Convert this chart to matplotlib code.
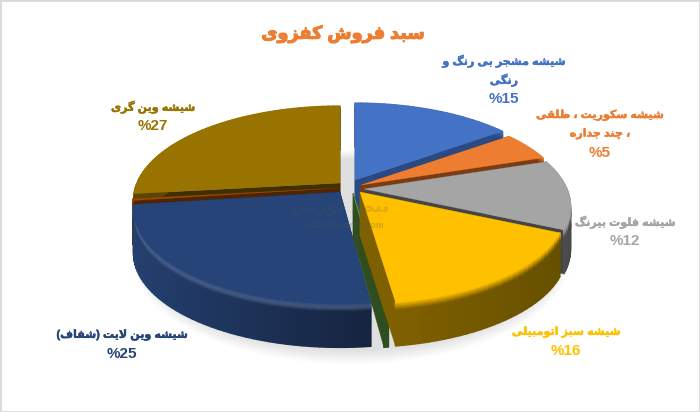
# -*- coding: utf-8 -*-
import numpy as np
import matplotlib
matplotlib.use('Agg')
import matplotlib.pyplot as plt
import matplotlib.patheffects as pe
from matplotlib.collections import PolyCollection
from matplotlib.colors import to_rgb
from matplotlib.patches import Rectangle

# slices clockwise from 12 o'clock, two of them are tiny and have no label
slice_values = [15, 5, 12, 16, 0.3, 25, 0.3, 27]
top_colors = ['#4472c4', '#ed7d31', '#a5a5a5', '#ffc000', '#70ad47', '#264478', '#9e480e', '#997300']
cut_colors = ['#2a4a85', '#7a3c10', '#454545', '#7f6000', '#2f4d1f', '#16284a', '#4f2500', '#403000']
wall_left = ['#2a4a85', '#7a3c10', '#585858', '#806000', '#2f4d1f', '#24406f', '#5a2a00', '#5c4500']
wall_right = ['#2a4a85', '#7a3c10', '#484848', '#665000', '#2f4d1f', '#15233f', '#5a2a00', '#5c4500']
rim_glow = [0, 0, 0.1, 0, 0, 0.14, 0, 0]

title_text = 'سبد فروش کفزوی'
label_lines = [['شیشه مشجر بی رنگ و', 'رنگی'],
               ['شیشه سکوریت ، طلقی', '، چند جداره'],
               ['شیشه فلوت بیرنگ'],
               ['شیشه سبز اتومبیلی'],
               ['شیشه وین لایت (شفاف)'],
               ['شیشه وین گری']]
label_percents = ['%15', '%5', '%12', '%16', '%25', '%27']
label_colors = ['#4472c4', '#ed7d31', '#a5a5a5', '#ffc000', '#264478', '#997300']
label_x = [504, 600, 625, 566, 122, 153]
label_y = [61, 115, 222, 332, 335, 107]

# pie geometry in pixels
CX, CY = 351, 188
RX, RY = 203, 91
PERSP = 0.183
DEPTH = 44
offset_x = [4, 10, 13, 9, 2, -11, -12, -11]
offset_y = [-8, -3, 1, 4, 5, 4, 0, -5]
draw_order = [0, 7, 1, 6, 2, 5, 4, 3]

# matplotlib does not join arabic letters, so pick the presentation forms here
FORMS = {'ا': 'ﺍﺎ', 'د': 'ﺩﺪ', 'ر': 'ﺭﺮ', 'ز': 'ﺯﺰ', 'و': 'ﻭﻮ',
         'ب': 'ﺏﺐﺑﺒ', 'ت': 'ﺕﺖﺗﺘ', 'ج': 'ﺝﺞﺟﺠ', 'چ': 'ﭺﭻﭼﭽ',
         'س': 'ﺱﺲﺳﺴ', 'ش': 'ﺵﺶﺷﺸ', 'ض': 'ﺽﺾﺿﻀ', 'ط': 'ﻁﻂﻃﻄ',
         'ف': 'ﻑﻒﻓﻔ', 'ق': 'ﻕﻖﻗﻘ', 'ک': 'ﮎﮏﮐﮑ', 'گ': 'ﮒﮓﮔﮕ',
         'ل': 'ﻝﻞﻟﻠ', 'م': 'ﻡﻢﻣﻤ', 'ن': 'ﻥﻦﻧﻨ', 'ه': 'ﻩﻪﻫﻬ',
         'ی': 'ﯼﯽﯾﯿ'}
MIRROR = {'(': ')', ')': '('}


def shape(text):
    text = text.replace('لا', '\ufefb')
    out = []
    for i, ch in enumerate(text):
        if ch == '\ufefb':
            joined = i > 0 and text[i - 1] in FORMS and len(FORMS[text[i - 1]]) == 4
            out.append('\ufefc' if joined else ch)
        elif ch in FORMS:
            before = i > 0 and text[i - 1] in FORMS and len(FORMS[text[i - 1]]) == 4
            after = len(FORMS[ch]) == 4 and i + 1 < len(text) and (text[i + 1] in FORMS or text[i + 1] == '\ufefb')
            out.append(FORMS[ch][(1 if before else 0) + (2 if after else 0)] if len(FORMS[ch]) == 4
                       else FORMS[ch][1 if before else 0])
        else:
            out.append(MIRROR.get(ch, ch))
    return ''.join(out[::-1])


def project(u, v, dx=0, dy=0, z=0):
    s = 1 / (1 + PERSP * v)
    return CX + dx + RX * u * s, CY + dy - RY * v * s + z


def mix(a, b, t):
    a, b = np.array(to_rgb(a)), np.array(to_rgb(b))
    return tuple(a + (b - a) * t)


fig = plt.figure(figsize=(7, 4.12), dpi=100)
ax = fig.add_axes([0, 0, 1, 1])
ax.set_xlim(0, 700)
ax.set_ylim(412, 0)
ax.axis('off')
fig.add_artist(Rectangle((0, 0), 1, 1, transform=fig.transFigure, fill=False,
                         edgecolor='#d9d9d9', linewidth=2))

# soft shadow below the whole pie
t = np.radians(np.linspace(0, 360, 181))
for grow in np.arange(12, 0, -1.5):
    sx, sy = project(np.sin(t), np.cos(t), 0, 2, DEPTH + 3)
    sx = CX + (sx - CX) * (1 + grow / RX)
    sy = CY + DEPTH + (sy - CY - DEPTH) * (1 + grow / RY)
    ax.fill(sx, sy, color='#808080', alpha=0.03, linewidth=0, zorder=1)

edges = np.concatenate([[0], np.cumsum(slice_values)])
edges = edges / edges[-1] * 360

z_order = 2
for i in draw_order:
    start, stop = np.radians(edges[i]), np.radians(edges[i + 1])
    dx, dy = offset_x[i], offset_y[i]
    a = np.linspace(start, stop, max(2, int(np.degrees(stop - start) / 2) + 2))
    rim_x, rim_y = project(np.sin(a), np.cos(a), dx, dy)

    # the two cut faces
    for ang in (start, stop):
        ex, ey = project(np.sin(ang), np.cos(ang), dx, dy)
        ox, oy = project(0, 0, dx, dy)
        ax.fill([ox, ex, ex, ox], [oy, ey, ey + DEPTH, oy + DEPTH], color=cut_colors[i],
                linewidth=0.3, zorder=z_order)
    z_order += 1

    # outer wall, small quads so it can shade sideways and round off at the rim
    rows = np.concatenate([np.linspace(0, 0.2, 7), [0.45, 1]])
    quads, colors = [], []
    for j in range(len(a) - 1):
        frac = (rim_x[j] + rim_x[j + 1]) / 2
        span = max(rim_x.max() - rim_x.min(), 1)
        side = mix(wall_left[i], wall_right[i], (frac - rim_x.min()) / span)
        for r0, r1 in zip(rows[:-1], rows[1:]):
            p = min(r0 / 0.18, 1)
            col = mix(top_colors[i], side, p)
            col = mix(col, '#ffffff', rim_glow[i] * np.sin(np.pi * p))
            quads.append([(rim_x[j], rim_y[j] + r0 * DEPTH), (rim_x[j + 1], rim_y[j + 1] + r0 * DEPTH),
                          (rim_x[j + 1], rim_y[j + 1] + r1 * DEPTH), (rim_x[j], rim_y[j] + r1 * DEPTH)])
            colors.append(col)
    ax.add_collection(PolyCollection(quads, facecolors=colors, edgecolors=colors,
                                     linewidths=1.0, zorder=z_order))
    z_order += 1

    # top face
    ox, oy = project(0, 0, dx, dy)
    ax.fill(np.r_[ox, rim_x], np.r_[oy, rim_y], color=top_colors[i], linewidth=0.2, zorder=z_order)
    z_order += 1

# faint watermark that sits on the chart
ax.text(340, 207, shape('نبض بورس'), fontsize=13, fontweight='bold', color='#555555', alpha=0.18,
        ha='center', va='center', zorder=80)
ax.text(346, 225, 'nabzebourse.com', fontsize=5.5, fontweight='bold', color='#555555', alpha=0.25,
        ha='center', va='center', zorder=80)

fonts = ['Liberation Sans', 'DejaVu Sans']
title = ax.text(343, 34, shape(title_text), fontsize=12.7, fontweight='bold', color='#ed7d31',
                family=fonts, ha='center', va='center', zorder=90)
title.set_path_effects([pe.withStroke(linewidth=0.8, foreground='#ed7d31')])

for lines, pct, col, x, y in zip(label_lines, label_percents, label_colors, label_x, label_y):
    for n, line in enumerate(lines):
        txt = ax.text(x, y + n * 19, shape(line), fontsize=8, fontweight='bold', color=col,
                      family=fonts, ha='center', va='center', zorder=90)
        txt.set_path_effects([pe.withStroke(linewidth=0.3, foreground=col)])
    ax.text(x, y + len(lines) * 19, pct, fontsize=11, fontweight='bold', color=col,
            family=fonts, ha='center', va='center', zorder=90)

fig.savefig('out.png', dpi=100)
